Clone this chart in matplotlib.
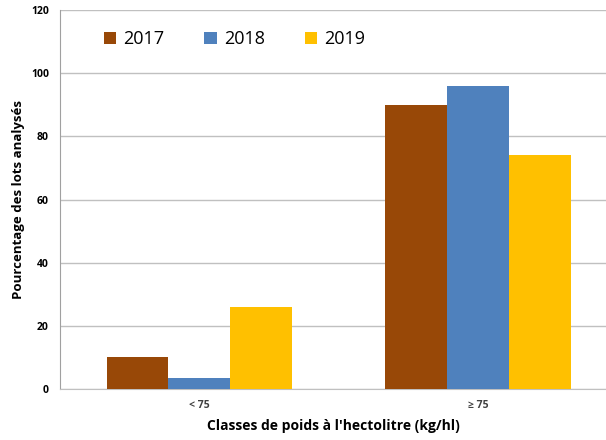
import numpy as np
import matplotlib
matplotlib.use("Agg")
import matplotlib.pyplot as plt

categories = ["< 75", "≥ 75"]
years = ["2017", "2018", "2019"]
v2017 = [10, 90]
v2018 = [3.6, 96]
v2019 = [26, 74]
colors = ["#984807", "#4F81BD", "#FFC000"]

plt.rcParams['font.family'] = ['Open Sans', 'DejaVu Sans']

fig = plt.figure(figsize=(6.06, 4.40), dpi=100)
ax = fig.add_axes([0.099, 0.116, 0.901, 0.861])

x = np.arange(len(categories))
width = 0.222
for i, (vals, lab) in enumerate(zip([v2017, v2018, v2019], years)):
    ax.bar(x + (i - 1) * width, vals, width, color=colors[i], label=lab, zorder=3)

ax.set_ylim(0, 120)
ax.set_yticks(range(0, 121, 20))
ax.set_xlim(-0.5, 1.46)
ax.set_xticks(x)
ax.set_xticklabels(categories, fontsize=7.5, fontweight='bold', color='#404040')
for t in ax.get_yticklabels():
    t.set_fontsize(7.5)
    t.set_fontweight('bold')
ax.tick_params(length=0, pad=8)
ax.yaxis.grid(True, color='#C0C0C0', linewidth=1, zorder=0)
for s in ['top', 'right']:
    ax.spines[s].set_visible(False)
ax.spines['left'].set_color('#A0A0A0')
ax.spines['bottom'].set_color('#C0C0C0')

ax.set_ylabel("Pourcentage des lots analysés", fontsize=9.5, fontweight='bold', labelpad=4)
ax.set_xlabel("Classes de poids à l'hectolitre (kg/hl)", fontsize=10, fontweight='bold', labelpad=6)

ax.legend(loc='upper left', bbox_to_anchor=(0.05, 0.99), ncol=3, frameon=False,
          fontsize=13, handlelength=0.7, handleheight=0.7, columnspacing=2.2, handletextpad=0.4)

fig.savefig("out.png", dpi=100)
